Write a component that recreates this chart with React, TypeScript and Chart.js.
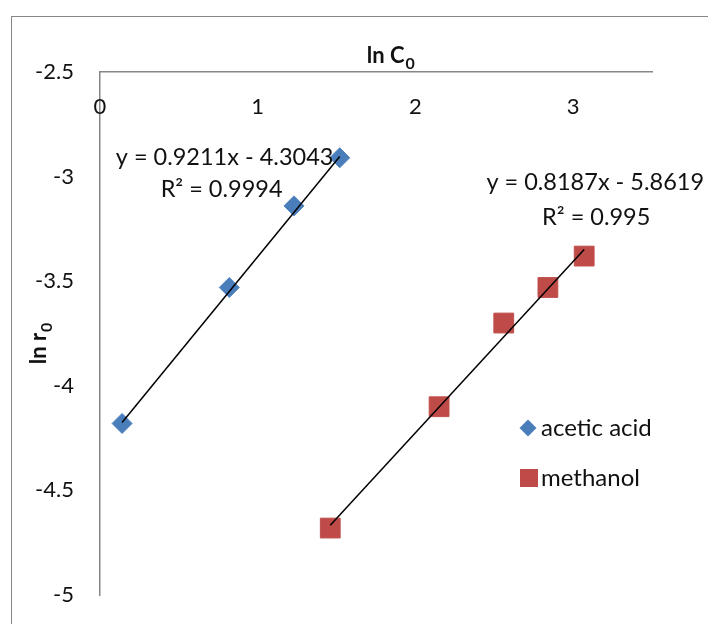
import { useEffect, useRef } from "react";
import { Chart, registerables } from "chart.js";

Chart.register(...registerables);

// ln C0 / ln r0 pairs for each reactant
const ACETIC_X = [0.14, 0.82, 1.23, 1.52];
const ACETIC_Y = [-4.18, -3.53, -3.14, -2.91];
const METHANOL_X = [1.46, 2.15, 2.56, 2.84, 3.07];
const METHANOL_Y = [-4.68, -4.1, -3.7, -3.53, -3.38];

// Linear fits
const ACETIC_SLOPE = 0.9211;
const ACETIC_INTERCEPT = -4.3043;
const ACETIC_R2 = "0.9994";
const METHANOL_SLOPE = 0.8187;
const METHANOL_INTERCEPT = -5.8619;
const METHANOL_R2 = "0.995";

const SERIES_NAMES = ["acetic acid", "methanol"];
const X_TICKS = [0, 1, 2, 3];
const Y_TICKS = [-2.5, -3, -3.5, -4, -4.5, -5];

const FONT = "Lato, 'Open Sans', sans-serif";
const TEXT = "#111";
const AXIS = "#868686";
const BLUE = "#4A7EBB";
const RED = "#BE4B48";

const pts = (xs: number[], ys: number[]) => xs.map((x, i) => ({ x, y: ys[i] }));
const fitLine = (xs: number[], m: number, b: number) => {
  const lo = Math.min(...xs);
  const hi = Math.max(...xs);
  return [lo, hi].map((x) => ({ x, y: m * x + b }));
};
const eqText = (m: number, b: number) =>
  `y = ${m}x ${b < 0 ? "-" : "+"} ${Math.abs(b)}`;

// Bold title with a subscript, centred on (cx, baseline cy)
function drawSubTitle(ctx: CanvasRenderingContext2D, main: string, sub: string, cx: number, cy: number) {
  ctx.font = `bold 22px ${FONT}`;
  const w1 = ctx.measureText(main).width;
  ctx.font = `bold 16px ${FONT}`;
  const w2 = ctx.measureText(sub).width;
  const start = cx - (w1 + w2) / 2;
  ctx.textAlign = "left";
  ctx.textBaseline = "alphabetic";
  ctx.font = `bold 22px ${FONT}`;
  ctx.fillText(main, start, cy);
  ctx.font = `bold 16px ${FONT}`;
  ctx.fillText(sub, start + w1 + 1, cy + 6);
}

const decor = {
  id: "decor",
  beforeDraw(chart: any) {
    const ctx = chart.ctx as CanvasRenderingContext2D;
    ctx.save();
    ctx.strokeStyle = AXIS;
    ctx.lineWidth = 1;
    ctx.strokeRect(11.5, 16.5, 800, 700);
    ctx.restore();
  },
  afterDraw(chart: any) {
    const ctx = chart.ctx as CanvasRenderingContext2D;
    const xs = chart.scales.x;
    const ys = chart.scales.y;
    const area = chart.chartArea;
    ctx.save();
    ctx.fillStyle = TEXT;

    // tick labels
    ctx.font = `22px ${FONT}`;
    ctx.textAlign = "center";
    ctx.textBaseline = "middle";
    X_TICKS.forEach((v) => ctx.fillText(String(v), xs.getPixelForValue(v), area.top + 35));
    ctx.textAlign = "right";
    Y_TICKS.forEach((v) => ctx.fillText(String(v), area.left - 26, ys.getPixelForValue(v)));

    // axis titles
    drawSubTitle(ctx, "ln C", "0", xs.getPixelForValue(1.84), area.top - 9);
    ctx.save();
    ctx.translate(46, ys.getPixelForValue(-3.8));
    ctx.rotate(-Math.PI / 2);
    drawSubTitle(ctx, "ln r", "0", 0, 0);
    ctx.restore();

    // fit equations
    ctx.font = `23.5px ${FONT}`;
    ctx.textAlign = "center";
    ctx.textBaseline = "middle";
    const ax = xs.getPixelForValue(0.79);
    const ay = ys.getPixelForValue(-2.91);
    ctx.fillText(eqText(ACETIC_SLOPE, ACETIC_INTERCEPT), ax, ay);
    ctx.fillText(`R² = ${ACETIC_R2}`, ax - 3, ay + 32);
    const mx = xs.getPixelForValue(3.14);
    const my = ys.getPixelForValue(-3.03);
    ctx.fillText(eqText(METHANOL_SLOPE, METHANOL_INTERCEPT), mx, my);
    ctx.fillText(`R² = ${METHANOL_R2}`, mx + 1, my + 35);

    // legend
    const lx = area.left + 428;
    const ly1 = area.top + 356;
    const ly2 = area.top + 406;
    ctx.fillStyle = BLUE;
    ctx.beginPath();
    ctx.moveTo(lx, ly1 - 8.5);
    ctx.lineTo(lx + 8.5, ly1);
    ctx.lineTo(lx, ly1 + 8.5);
    ctx.lineTo(lx - 8.5, ly1);
    ctx.closePath();
    ctx.fill();
    ctx.fillStyle = RED;
    ctx.fillRect(lx - 8, ly2 - 9, 18, 18);
    ctx.fillStyle = TEXT;
    ctx.font = `24px ${FONT}`;
    ctx.textAlign = "left";
    ctx.fillText(chart.data.datasets[0].label, lx + 13, ly1);
    ctx.fillText(chart.data.datasets[1].label, lx + 13, ly2);
    ctx.restore();
  },
};

export default function App() {
  const ref = useRef<HTMLCanvasElement>(null);

  useEffect(() => {
    if (!ref.current) return;
    const chart = new Chart(ref.current, {
      type: "scatter",
      data: {
        datasets: [
          {
            label: SERIES_NAMES[0],
            data: pts(ACETIC_X, ACETIC_Y),
            pointStyle: "rectRot",
            pointRadius: 10,
            backgroundColor: BLUE,
            borderColor: "#4F81BD",
            borderWidth: 1,
            order: 2,
          },
          {
            label: SERIES_NAMES[1],
            data: pts(METHANOL_X, METHANOL_Y),
            pointStyle: "rect",
            pointRadius: 14,
            backgroundColor: RED,
            borderColor: "#C0504D",
            borderWidth: 1,
            order: 2,
          },
          {
            label: "acetic fit",
            type: "line",
            data: fitLine(ACETIC_X, ACETIC_SLOPE, ACETIC_INTERCEPT),
            borderColor: "#000",
            borderWidth: 1.5,
            pointRadius: 0,
            order: 1,
          },
          {
            label: "methanol fit",
            type: "line",
            data: fitLine(METHANOL_X, METHANOL_SLOPE, METHANOL_INTERCEPT),
            borderColor: "#000",
            borderWidth: 1.5,
            pointRadius: 0,
            order: 1,
          },
        ],
      },
      options: {
        animation: false,
        responsive: false,
        devicePixelRatio: 1,
        layout: { padding: { left: 100, top: 72, right: 56, bottom: 29 } },
        plugins: { legend: { display: false }, tooltip: { enabled: false } },
        scales: {
          x: {
            type: "linear",
            position: "top",
            min: 0,
            max: 3.5,
            grid: { display: false, drawTicks: false },
            border: { display: true, color: AXIS, width: 1.5 },
            ticks: { display: false },
          },
          y: {
            type: "linear",
            position: "left",
            min: -5,
            max: -2.5,
            grid: { display: false, drawTicks: false },
            border: { display: true, color: AXIS, width: 1.5 },
            ticks: { display: false },
          },
        },
      },
      plugins: [decor],
    } as any);
    return () => chart.destroy();
  }, []);

  return (
    <div style={{ position: "absolute", left: 0, top: 0, width: 708, height: 624, background: "#fff" }}>
      <canvas ref={ref} width={708} height={624} />
    </div>
  );
}
